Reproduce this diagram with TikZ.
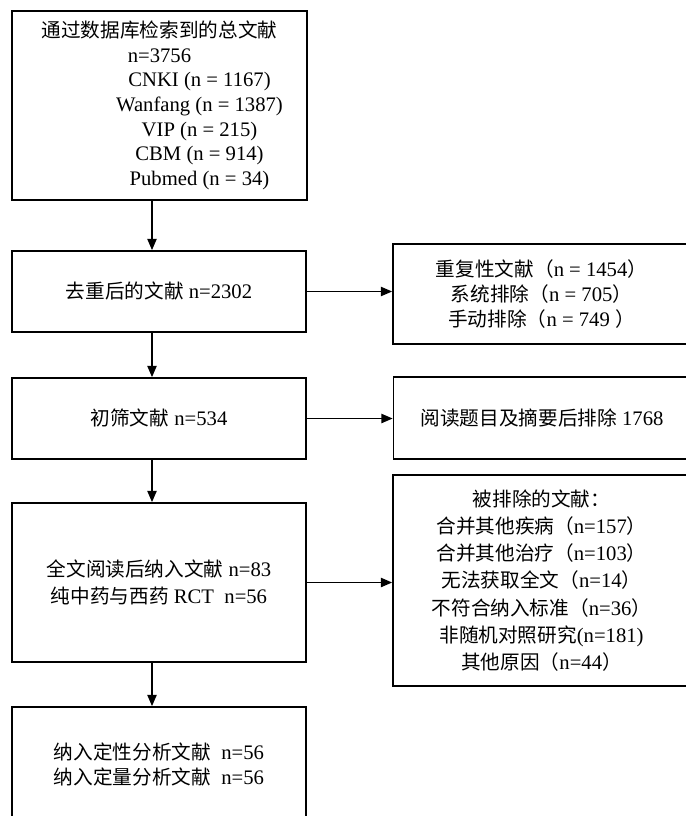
\documentclass[tikz,border=0pt]{standalone}
\usepackage{fontspec}
\setmainfont{Liberation Serif}
\newfontfamily\cjk[Scale=0.95]{Noto Sans CJK SC}
\usepackage{tikz}
\usetikzlibrary{arrows.meta,positioning}
\tikzset{
  stagebox/.style={
    rectangle, draw=black, line width=1.3pt, fill=white,
    minimum width=220.5pt, minimum height=#1,
    font=\fontsize{15.5pt}{18.5pt}\selectfont, align=center, inner sep=3pt
  },
  stagebox/.default=60.75pt,
  exclbox/.style={
    rectangle, draw=black, line width=1.3pt, fill=white,
    minimum width=222.75pt, minimum height=#1,
    font=\fontsize{15.5pt}{19pt}\selectfont, align=center, inner sep=3pt
  },
  exclbox/.default=61.5pt,
  flowarrow/.style={
    -{Triangle[length=8.5pt,width=7pt]}, line width=1.1pt, color=black
  },
}

\begin{document}
\begin{tikzpicture}[x=0.75pt,y=-0.75pt]
  \useasboundingbox (0,0) rectangle (685,816);
  \coordinate (spine) at (152,0);

  \node[stagebox=141.75pt, minimum width=221.25pt] (srch) at (159.5,105.5) {
    {\cjk 通过数据库检索到的总文献}\\
    n=3756\\
    \hspace*{60pt}CNKI (n = 1167)\\
    \hspace*{60pt}Wanfang (n = 1387)\\
    \hspace*{60pt}VIP (n = 215)\\
    \hspace*{60pt}CBM (n = 914)\\
    \hspace*{60pt}Pubmed (n = 34)
  };
  \node[stagebox] (dedup) at (159,291.5) {{\cjk 去重后的文献} n=2302};
  \node[stagebox] (screen) at (159,418.5) {{\cjk 初筛文献} n=534};
  \node[stagebox=119.25pt, font=\fontsize{15.5pt}{20pt}\selectfont] (fulltext) at (159,582.5) {
    {\cjk 全文阅读后纳入文献} n=83\\
    {\cjk 纯中药与西药} RCT~ n=56
  };
  \node[stagebox=86.25pt] (incl) at (159,764.5) {
    {\cjk 纳入定性分析文献}~ n=56\\
    {\cjk 纳入定量分析文献}~ n=56
  };

  \node[exclbox=75pt] (dupl) at (541.5,294) {
    {\cjk 重复性文献（}n = 1454{\cjk ）}\\
    {\cjk 系统排除（}n = 705{\cjk ）}\\
    {\cjk 手动排除（}n = 749 {\cjk ）}
  };
  \node[exclbox] (absx) at (542,418) {{\cjk 阅读题目及摘要后排除} 1768};
  \node[exclbox=158.25pt, font=\fontsize{15.5pt}{20.4pt}\selectfont] (exclr) at (541.5,580.5) {
    {\cjk 被排除的文献：}\\
    {\cjk 合并其他疾病（}n=157{\cjk ）}\\
    {\cjk 合并其他治疗（}n=103{\cjk ）}\\
    {\cjk 无法获取全文（}n=14{\cjk ）}\\
    {\cjk 不符合纳入标准（}n=36{\cjk ）}\\
    {\cjk 非随机对照研究}(n=181)\\
    {\cjk 其他原因（}n=44{\cjk ）}
  };

  \draw[flowarrow] (srch.south -| spine) -- (dedup.north -| spine);
  \draw[flowarrow] (dedup.south -| spine) -- (screen.north -| spine);
  \draw[flowarrow] (screen.south -| spine) -- (fulltext.north -| spine);
  \draw[flowarrow] (fulltext.south -| spine) -- (incl.north -| spine);
  \draw[flowarrow] (dedup.east) -- (dedup.east -| dupl.west);
  \draw[flowarrow] (screen.east) -- (screen.east -| absx.west);
  \draw[flowarrow] (fulltext.east) -- (fulltext.east -| exclr.west);
\end{tikzpicture}
\end{document}
